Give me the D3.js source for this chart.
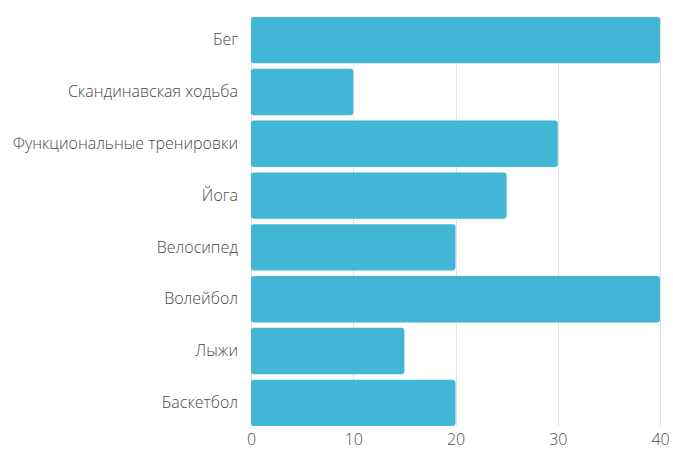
<!DOCTYPE html>
<html>
<head>
<meta charset="utf-8">
<script src="https://cdn.jsdelivr.net/npm/d3@7"></script>
<style>
  html, body { margin: 0; padding: 0; background: #fff; }
  svg { display: block; }
  text { font-family: "Open Sans", "Noto Sans", sans-serif; font-weight: 300; }
</style>
</head>
<body>
<svg id="chart" width="673" height="450"></svg>
<script>
// Activity popularity by sport
const categories = ["Бег", "Скандинавская ходьба", "Функциональные тренировки", "Йога", "Велосипед", "Волейбол", "Лыжи", "Баскетбол"];
const values = [40, 10, 30, 25, 20, 40, 15, 20];
const xTicks = [0, 10, 20, 30, 40];

const svg = d3.select("#chart");
const plotLeft = 251, plotRight = 660;
const plotTop = 14.25, plotBottom = 428.75;

const x = d3.scaleLinear().domain([0, 40]).range([plotLeft, plotRight]);
const y = d3.scaleBand().domain(categories).range([plotTop, plotBottom])
  .paddingInner(0.106).paddingOuter(0.053);

// vertical gridlines
svg.append("g")
  .selectAll("line")
  .data(xTicks)
  .join("line")
  .attr("x1", d => Math.round(x(d)) + 0.5)
  .attr("x2", d => Math.round(x(d)) + 0.5)
  .attr("y1", y(categories[0]))
  .attr("y2", y(categories[categories.length - 1]) + y.bandwidth())
  .attr("stroke", "#e3e3e3")
  .attr("stroke-width", 1);

// bars
svg.append("g")
  .selectAll("rect")
  .data(categories)
  .join("rect")
  .attr("x", x(0))
  .attr("y", d => y(d))
  .attr("width", (d, i) => x(values[i]) - x(0))
  .attr("height", y.bandwidth())
  .attr("rx", 3)
  .attr("fill", "#42b6d5");

// category axis
const yAxis = svg.append("g")
  .attr("transform", `translate(${plotLeft},0)`)
  .call(d3.axisLeft(y).tickSize(0).tickPadding(13));
yAxis.select(".domain").remove();
yAxis.selectAll("text")
  .attr("font-size", 16)
  .attr("fill", "#4a4a4a");

// value axis
const xAxis = svg.append("g")
  .attr("transform", `translate(0,${plotBottom})`)
  .call(d3.axisBottom(x).tickValues(xTicks).tickSize(0).tickPadding(5));
xAxis.select(".domain").remove();
xAxis.selectAll("text")
  .attr("font-size", 16)
  .attr("fill", "#4a4a4a");
</script>
</body>
</html>
